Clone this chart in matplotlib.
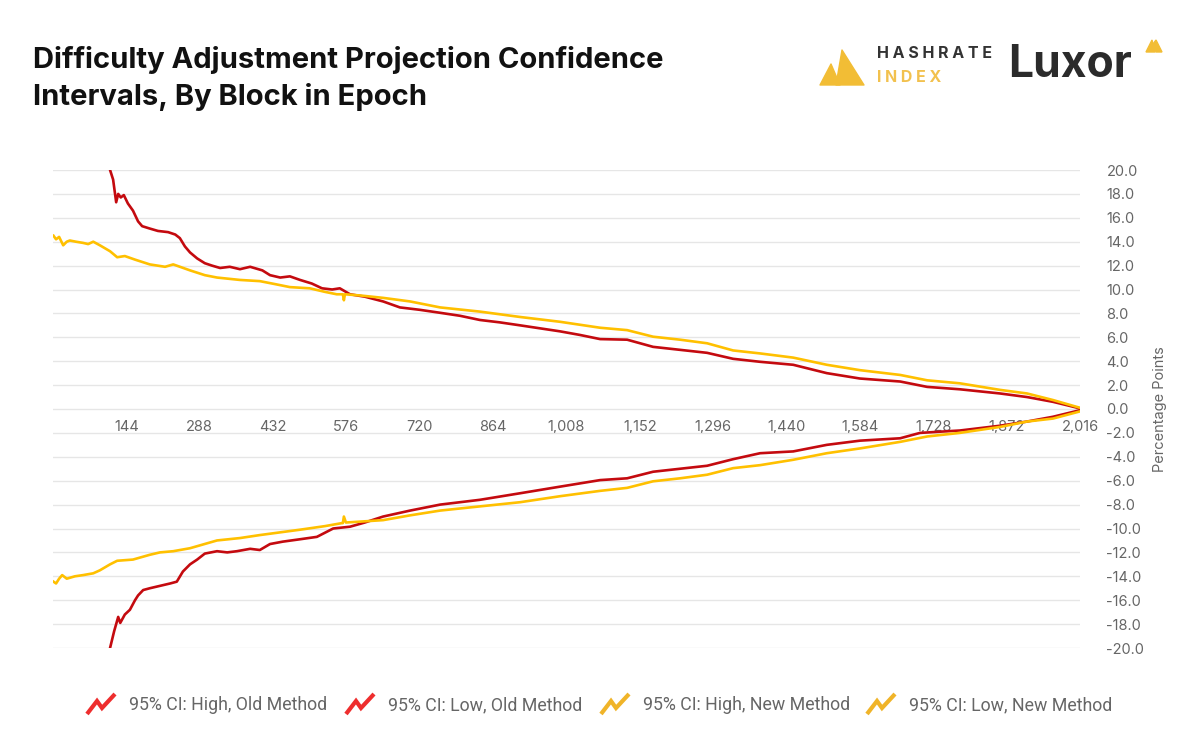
import matplotlib.pyplot as plt
from matplotlib.lines import Line2D
from matplotlib.patches import Polygon
from matplotlib.ticker import FuncFormatter

# block in epoch -> percentage points
old_high_blocks = [104, 112, 118, 124, 128, 133, 139, 147, 157, 167, 175, 190, 206, 226, 240, 249,
                   259, 269, 283, 298, 312, 328, 347, 367, 387, 411, 426, 446, 465, 485, 508, 528,
                   548, 563, 583, 612, 648, 681, 720, 760, 799, 838, 877, 917, 956, 995, 1034,
                   1074, 1127, 1178, 1231, 1284, 1335, 1388, 1453, 1519, 1584, 1663, 1716, 1780,
                   1859, 1912, 1963, 2016]
old_high_values = [21.5, 20.0, 19.2, 17.3, 18.0, 17.7, 17.9, 17.2, 16.6, 15.7, 15.3, 15.1, 14.9,
                   14.8, 14.6, 14.3, 13.6, 13.1, 12.6, 12.2, 12.0, 11.8, 11.9, 11.7, 11.9, 11.6,
                   11.2, 11.0, 11.1, 10.8, 10.5, 10.1, 10.0, 10.1, 9.6, 9.4, 9.0, 8.5, 8.3, 8.05,
                   7.8, 7.45, 7.25, 7.0, 6.75, 6.5, 6.2, 5.85, 5.8, 5.2, 4.95, 4.7, 4.2, 3.95, 3.7,
                   3.0, 2.55, 2.3, 1.85, 1.65, 1.3, 1.0, 0.6, 0.05]

old_low_blocks = [104, 112, 120, 128, 132, 141, 151, 161, 167, 177, 190, 210, 230, 243, 255, 269,
                  283, 298, 322, 342, 361, 387, 406, 426, 451, 485, 518, 550, 583, 612, 648, 701,
                  760, 838, 917, 995, 1074, 1127, 1178, 1231, 1284, 1335, 1388, 1453, 1519, 1584,
                  1663, 1702, 1780, 1859, 1912, 1963, 2016]
old_low_values = [-21.5, -20.0, -18.6, -17.4, -17.9, -17.2, -16.8, -16.0, -15.6, -15.15, -15.0,
                  -14.8, -14.6, -14.45, -13.6, -13.0, -12.6, -12.1, -11.9, -12.0, -11.9, -11.7,
                  -11.8, -11.3, -11.1, -10.9, -10.7, -10.0, -9.85, -9.5, -9.0, -8.5, -8.0, -7.6,
                  -7.05, -6.5, -5.95, -5.8, -5.25, -5.0, -4.75, -4.2, -3.7, -3.55, -3.0, -2.65,
                  -2.45, -2.0, -1.8, -1.4, -1.05, -0.65, -0.1]

new_high_blocks = [1, 6, 12, 20, 27, 33, 45, 59, 69, 79, 92, 112, 126, 141, 161, 190, 220, 236,
                   269, 298, 322, 367, 406, 436, 465, 504, 534, 557, 569, 571, 573, 603, 648, 701,
                   760, 838, 917, 995, 1074, 1127, 1178, 1231, 1284, 1335, 1388, 1453, 1519, 1584,
                   1663, 1716, 1780, 1859, 1912, 1963, 2016]
new_high_values = [14.5, 14.2, 14.4, 13.7, 14.0, 14.1, 14.0, 13.9, 13.8, 14.0, 13.7, 13.2, 12.7,
                   12.8, 12.5, 12.1, 11.9, 12.1, 11.6, 11.2, 11.0, 10.8, 10.7, 10.45, 10.2, 10.1,
                   9.8, 9.6, 9.6, 9.1, 9.6, 9.5, 9.3, 9.0, 8.5, 8.15, 7.7, 7.3, 6.8, 6.6, 6.05,
                   5.8, 5.5, 4.9, 4.65, 4.3, 3.7, 3.25, 2.85, 2.4, 2.15, 1.6, 1.3, 0.75, 0.1]

new_low_blocks = [1, 6, 12, 18, 27, 43, 59, 79, 92, 112, 126, 157, 190, 210, 236, 269, 322, 367,
                  406, 485, 534, 567, 569, 571, 575, 648, 701, 760, 838, 917, 995, 1074, 1127,
                  1178, 1231, 1284, 1335, 1388, 1453, 1519, 1584, 1663, 1716, 1780, 1859, 1912,
                  1963, 2016]
new_low_values = [-14.45, -14.6, -14.2, -13.9, -14.2, -14.0, -13.9, -13.75, -13.5, -13.0, -12.7,
                  -12.6, -12.2, -12.0, -11.9, -11.65, -11.0, -10.8, -10.55, -10.1, -9.8, -9.55,
                  -9.55, -9.0, -9.5, -9.3, -8.9, -8.5, -8.15, -7.8, -7.3, -6.85, -6.6, -6.05,
                  -5.8, -5.5, -4.95, -4.7, -4.25, -3.7, -3.3, -2.75, -2.3, -2.0, -1.5, -1.05,
                  -0.8, -0.2]

series_labels = ['95% CI: High, Old Method', '95% CI: Low, Old Method',
                 '95% CI: High, New Method', '95% CI: Low, New Method']
x_ticks = list(range(144, 2017, 144))
y_ticks = list(range(-20, 21, 2))

RED = '#c40a0f'
GOLD = '#ffc000'
GREY = '#666666'
W, H = 1200, 750


def fx(x):
    return x / W


def fy(y):
    return 1 - y / H


fig = plt.figure(figsize=(12, 7.5), dpi=100)
ax = fig.add_axes([fx(53), fy(648), fx(1080) - fx(53), fy(170) - fy(648)])

ax.plot(old_high_blocks, old_high_values, color=RED, lw=1.9, solid_joinstyle='round')
ax.plot(old_low_blocks, old_low_values, color=RED, lw=1.9, solid_joinstyle='round')
ax.plot(new_high_blocks, new_high_values, color=GOLD, lw=1.9, solid_joinstyle='round')
ax.plot(new_low_blocks, new_low_values, color=GOLD, lw=1.9, solid_joinstyle='round')

ax.set_xlim(0, 2016)
ax.set_ylim(-20, 20)
ax.set_yticks(y_ticks)
ax.set_xticks(x_ticks)
ax.xaxis.set_major_formatter(FuncFormatter(lambda v, p: f'{int(v):,}'))
ax.yaxis.set_major_formatter(FuncFormatter(lambda v, p: f'{v:.1f}'))
ax.yaxis.tick_right()
ax.grid(axis='y', color='#e6e6e6', lw=1)
ax.set_axisbelow(True)
for s in ['top', 'left', 'right']:
    ax.spines[s].set_visible(False)
ax.spines['bottom'].set_position(('data', 0))
ax.spines['bottom'].set_visible(False)
ax.tick_params(axis='x', length=0, pad=8, labelsize=10.5, labelcolor=GREY)
ax.tick_params(axis='y', length=0, pad=19, labelsize=10.5, labelcolor=GREY)
for lab in ax.get_xticklabels() + ax.get_yticklabels():
    lab.set_family('Inter')
ax.yaxis.set_label_position('right')
ax.set_ylabel('Percentage Points', color=GREY, fontsize=10.5, family='Inter', labelpad=6)

# title
fig.text(fx(33), fy(60), 'Difficulty Adjustment Projection Confidence',
         fontsize=21, fontweight='bold', family='Inter', va='center', color='#111111')
fig.text(fx(33), fy(97), 'Intervals, By Block in Epoch',
         fontsize=21, fontweight='bold', family='Inter', va='center', color='#111111')

# Hashrate Index logo
fig.add_artist(Polygon([(fx(820), fy(85)), (fx(831), fy(64)), (fx(840), fy(85))],
                       closed=True, color='#f2bd35', transform=fig.transFigure, joinstyle='round'))
fig.add_artist(Polygon([(fx(836), fy(85)), (fx(842), fy(50)), (fx(864), fy(85))],
                       closed=True, color='#f2bd35', transform=fig.transFigure, joinstyle='round'))
fig.text(fx(877), fy(54), 'H A S H R A T E', fontsize=11.5, fontweight='bold', family='Inter',
         va='center', color='#333333')
fig.text(fx(877), fy(77), 'I N D E X', fontsize=11.5, fontweight='bold', family='Inter',
         va='center', color='#f2c14e')

# Luxor logo
fig.text(fx(1008), fy(65), 'Luxor', fontsize=32, fontweight='bold', family='Inter',
         va='center', color='#2b2b2b')
fig.add_artist(Polygon([(fx(1146), fy(52)), (fx(1152), fy(40)), (fx(1155), fy(52))],
                       closed=True, color='#f2bd35', transform=fig.transFigure))
fig.add_artist(Polygon([(fx(1153), fy(44)), (fx(1156), fy(40)), (fx(1162), fy(52)), (fx(1156), fy(52))],
                       closed=True, color='#f2bd35', transform=fig.transFigure))

# legend
icon_colors = ['#ee2e2e', '#ee2e2e', '#f0b429', '#f0b429']
icon_x = [87, 346, 601, 867]
for lab, col, x0 in zip(series_labels, icon_colors, icon_x):
    xs = [x0, x0 + 10, x0 + 15, x0 + 28]
    ys = [714, 701, 708, 694]
    fig.add_artist(Line2D([fx(v) for v in xs], [fy(v) for v in ys], color=col, lw=3,
                          solid_joinstyle='miter', solid_capstyle='butt',
                          transform=fig.transFigure))
    fig.text(fx(x0 + 42), fy(705), lab, fontsize=12.8, family='Roboto', color=GREY, va='center')

fig.savefig('out.png', dpi=100, facecolor='white')
